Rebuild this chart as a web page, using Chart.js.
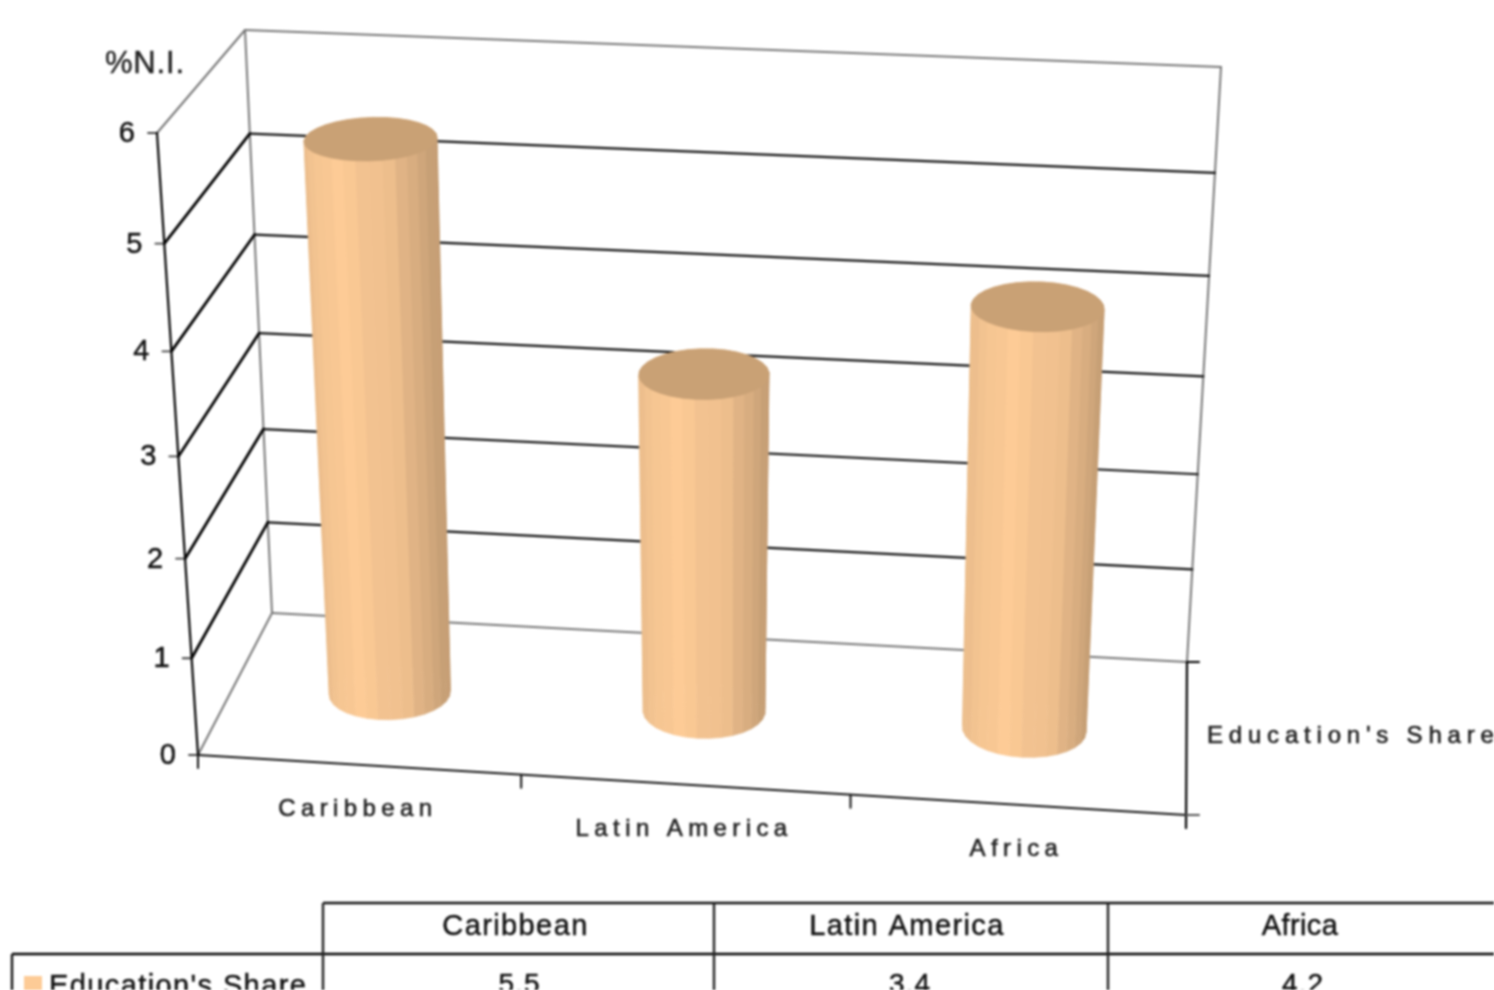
<!DOCTYPE html>
<html><head><meta charset="utf-8">
<script src="https://cdn.jsdelivr.net/npm/chart.js@4"></script>
<style>html,body{margin:0;padding:0;background:#fff;overflow:hidden}canvas{display:block;filter:blur(0.8px)}</style>
</head><body><canvas id="c" width="1494" height="990"></canvas>
<script>
const categories = ['Caribbean', 'Latin America', 'Africa'];
const seriesName = "Education's Share";
const values = [5.5, 3.4, 4.2];
const yTitle = '%N.I.';
const barColor = '#FDCB96';

// box corners of the drawn 3D view: [x, y]
const F00 = [198, 755], F10 = [1186, 815], F01 = [157, 133], F11 = [1211, 180];
const B00 = [272, 613], B10 = [1187, 662], B01 = [245, 30], B11 = [1221, 67];
const FONT = '"Liberation Sans", Arial, sans-serif';

function mix(a, b, t) { return [a[0] + (b[0] - a[0]) * t, a[1] + (b[1] - a[1]) * t]; }
function P(u0, v, d) {
  const w = v - 0.08 * v * (1 - v);
  const u = u0 - 0.028 * u0 * (1 - u0);
  const f = mix(mix(F00, F10, u), mix(F01, F11, u), w);
  const b = mix(mix(B00, B10, u), mix(B01, B11, u), w);
  return mix(f, b, d);
}
function line(ctx, pts, color, width) {
  ctx.beginPath();
  pts.forEach((p, i) => i ? ctx.lineTo(p[0], p[1]) : ctx.moveTo(p[0], p[1]));
  ctx.strokeStyle = color; ctx.lineWidth = width; ctx.stroke();
}
function text(ctx, s, x, y, font, align, color, spacing, bold) {
  ctx.font = font; ctx.textAlign = align; ctx.textBaseline = 'middle';
  ctx.fillStyle = color || '#111'; ctx.letterSpacing = spacing || '0px';
  ctx.fillText(s, x, y);
  if (bold) { ctx.strokeStyle = color || '#111'; ctx.lineWidth = bold; ctx.strokeText(s, x, y); }
  ctx.letterSpacing = '0px';
}
function shade(hex, f) {
  const n = parseInt(hex.slice(1), 16);
  const c = [n >> 16, (n >> 8) & 255, n & 255].map(x => Math.min(255, Math.round(x * f)));
  return 'rgb(' + c.join(',') + ')';
}
function light(c) {
  if (c < -0.35) return 1.0 - 0.07 * (-c - 0.35) / 0.65;
  if (c < 0.5) return 1.0 - 0.07 * (c + 0.35) / 0.85;
  return 0.93 - 0.15 * (c - 0.5) / 0.5;
}

const view3d = {
  id: 'view3d',
  beforeDatasetsDraw(chart) {
    const ctx = chart.ctx, a = chart.chartArea, ys = chart.scales.y, xs = chart.scales.x;
    const vOf = t => (a.bottom - ys.getPixelForValue(t)) / a.height;
    ctx.save(); ctx.lineCap = 'round';
    // frame
    line(ctx, [P(0, 0, 1), P(0, 1, 1)], '#777', 2);
    line(ctx, [P(1, 0, 1), P(1, 1, 1)], '#777', 2);
    ys.ticks.forEach(t => {
      const v = vOf(t.value), major = t.value > 0 && t.value < 6;
      line(ctx, [P(0, v, 1), P(1, v, 1)], major ? '#111' : '#777', major ? 2.2 : 2);
      line(ctx, [P(0, v, 0), P(0, v, 1)], major ? '#000' : '#777', major ? 2.8 : 2);
      const p = P(0, v, 0);
      line(ctx, [p, [p[0] - 9, p[1]]], '#444', 1.8);
      text(ctx, String(t.value), p[0] - 22, p[1] + 1, '29px ' + FONT, 'right', '#111', '0px', 0.5);
    });
    // front axes
    line(ctx, [P(0, 0, 0), P(0, 1, 0)], '#000', 2.2);
    line(ctx, [P(0, 0, 0), P(1, 0, 0)], '#111', 2.2);
    const top = P(0, 1, 0);
    text(ctx, yTitle, top[0] - 52, 64, '31px ' + FONT, 'left', '#222', '0.8px', 0.4);
    // category ticks and labels
    [0, 1, 2, 3].forEach(i => {
      const p = P(i / 3, 0, 0);
      line(ctx, [p, [p[0], p[1] + 13]], '#111', 2);
    });
    xs.ticks.forEach((t, i) => {
      const u = (xs.getPixelForValue(t.value) - a.left) / a.width;
      const p = P(u, 0, 0);
      text(ctx, categories[i], p[0] - 1, p[1] + 45, '24px ' + FONT, 'center', '#222', '5.4px', 0.6);
    });
    // series axis
    const br = P(1, 0, 1), fr = P(1, 0, 0);
    line(ctx, [br, [fr[0], fr[1] + 13]], '#000', 2.2);
    line(ctx, [br, [br[0] + 12, br[1]]], '#000', 2);
    line(ctx, [fr, [fr[0] + 13, fr[1]]], '#555', 2);
    text(ctx, seriesName, 1207, 736, '24px ' + FONT, 'left', '#222', '5.8px', 0.6);
    ctx.restore();
  },
  beforeDatasetDraw(chart, args) {
    const ctx = chart.ctx, a = chart.chartArea, meta = args.meta;
    const color = chart.data.datasets[args.index].backgroundColor;
    const N = 32;
    meta.data.forEach(el => {
      const uc = (el.x - a.left) / a.width, ru = el.width / 2 / a.width;
      const vTop = (a.bottom - el.y) / a.height, vBase = (a.bottom - el.base) / a.height;
      const at = (th, v) => {
        const b = v === vBase;
        return P(uc + (b ? 0.98 : 1.01) * ru * Math.cos(th), v, (b ? 0.5 : 0.53) + (b ? 0.185 : 0.2) * Math.sin(th));
      };
      const facets = [];
      for (let i = 0; i < N; i++) facets.push([i * 2 * Math.PI / N, (i + 1) * 2 * Math.PI / N, i]);
      facets.sort((p, q) => Math.sin(q[0] + Math.PI / N) - Math.sin(p[0] + Math.PI / N));
      facets.forEach(([t0, t1, i]) => {
        const mid = (t0 + t1) / 2;
        const f = light(Math.cos(mid)) + (i % 3 ? 0.004 : -0.006);
        const c = shade(color, f);
        const q = [at(t0, vBase), at(t1, vBase), at(t1, vTop), at(t0, vTop)];
        ctx.beginPath();
        q.forEach((p, k) => k ? ctx.lineTo(p[0], p[1]) : ctx.moveTo(p[0], p[1]));
        ctx.closePath();
        ctx.fillStyle = c; ctx.strokeStyle = c; ctx.lineWidth = 0.7;
        ctx.fill(); ctx.stroke();
      });
      ctx.beginPath();
      for (let i = 0; i < N; i++) {
        const p = at(i * 2 * Math.PI / N, vTop);
        i ? ctx.lineTo(p[0], p[1]) : ctx.moveTo(p[0], p[1]);
      }
      ctx.closePath();
      ctx.fillStyle = '#C9A175'; ctx.strokeStyle = '#C9A175'; ctx.lineWidth = 0.7;
      ctx.fill(); ctx.stroke();
    });
    return false;
  },
  afterDraw(chart) {
    const ctx = chart.ctx;
    const ds = chart.data.datasets[0];
    const colX = [323, 714, 1108, 1494], yTop = 903, yMid = 954, yEnd = 992, xLeft = 12;
    ctx.save();
    line(ctx, [[colX[0], yTop], [1494, yTop]], '#111', 2.6);
    line(ctx, [[xLeft, yMid], [1494, yMid]], '#000', 2.6);
    line(ctx, [[xLeft, yMid], [xLeft, yEnd]], '#111', 2.4);
    colX.slice(0, 3).forEach(x => line(ctx, [[x, yTop], [x, yEnd]], '#222', 2.4));
    categories.forEach((c, i) => {
      const cx = (colX[i] + colX[i + 1]) / 2 + [-3, -4, -1][i];
      text(ctx, c, cx, 927, '29px ' + FONT, 'center', '#111', i === 2 ? '0.4px' : '1.4px', 0.5);
      text(ctx, ds.data[i].toFixed(1), cx + [4, 3, 3][i], 985, '28px ' + FONT, 'center', '#111', '1px', 0.5);
    });
    ctx.fillStyle = ds.backgroundColor;
    ctx.fillRect(24, 976, 18, 16);
    text(ctx, seriesName, 49, 987, '29px ' + FONT, 'left', '#111', '1.4px', 0.5);
    ctx.restore();
  }
};

new Chart(document.getElementById('c'), {
  type: 'bar',
  data: { labels: categories, datasets: [{ label: seriesName, data: values, backgroundColor: barColor,
    categoryPercentage: 1, barPercentage: 0.39 }] },
  options: {
    responsive: false, animation: false,
    layout: { padding: { left: 198, right: 308, top: 133, bottom: 235 } },
    plugins: { legend: { display: false }, tooltip: { enabled: false } },
    scales: {
      x: { display: false },
      y: { display: false, min: 0, max: 6, ticks: { stepSize: 1 } }
    }
  },
  plugins: [view3d]
});
</script></body></html>
